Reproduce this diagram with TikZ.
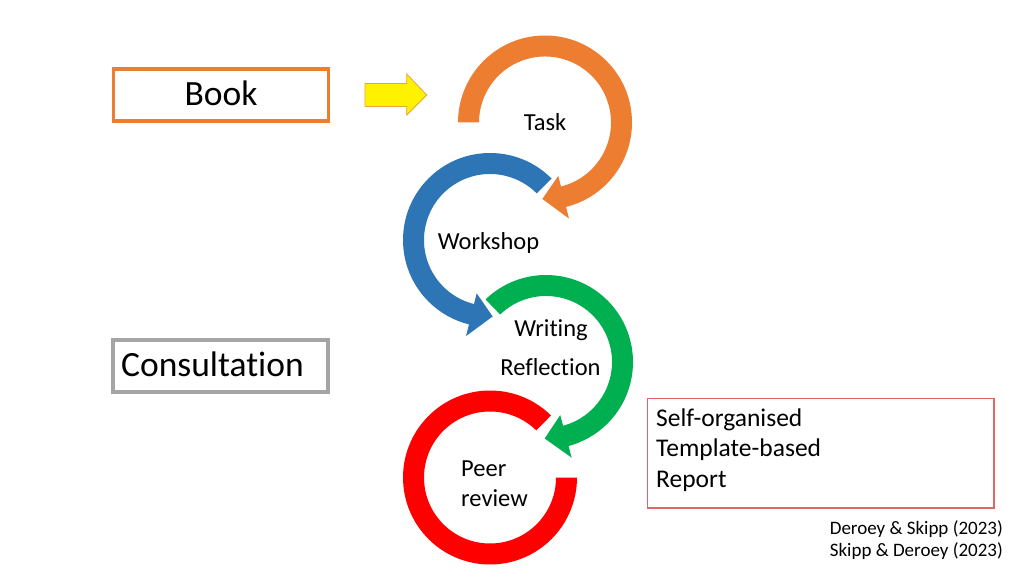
\documentclass[tikz,border=0pt]{standalone}
\usepackage{fontspec}
\setmainfont{Carlito}[Ligatures=NoCommon]
\definecolor{cOrange}{HTML}{ED7D31}
\definecolor{cBlue}{HTML}{2E75B6}
\definecolor{cGreen}{HTML}{00B050}
\definecolor{cRed}{HTML}{FF0000}
\definecolor{cGray}{HTML}{A5A5A5}
\definecolor{cBoxRed}{HTML}{E06666}
\definecolor{cYellowEdge}{HTML}{E8A33A}
\tikzset{
  lbl/.style={inner sep=0pt, font=\fontsize{24.5}{29}\selectfont},
  boxlbl/.style={inner sep=0pt, font=\fontsize{35.5}{41}\selectfont},
  replbl/.style={inner sep=0pt, font=\fontsize{25.5}{30}\selectfont},
  citelbl/.style={inner sep=0pt, font=\fontsize{19}{22}\selectfont},
  framebox/.style={draw, inner sep=0pt, fill=white},
  pics/circarrow/.style n args={4}{code={%
    % #1 start angle, #2 base angle, #3 tip angle, #4 colour
    \fill[#4] (#1:87) arc[start angle=#1, end angle=#2, radius=87]
      -- (#2:99) -- (#3:76.5) -- (#2:55) -- (#2:66)
      arc[start angle=#2, end angle=#1, radius=66] -- cycle;
  }},
}
\begin{document}
\begin{tikzpicture}[x=1pt, y=1pt]
\useasboundingbox[fill=white] (0,0) rectangle (1024,576);

% circular arrows
\pic at (545,453.5) {circarrow={180}{-76}{-92}{cOrange}};
\pic at (490,336) {circarrow={45}{256}{272}{cBlue}};
\pic at (546,214) {circarrow={134}{-75}{-91}{cGreen}};
\begin{scope}[shift={(490,98.5)}]
  \fill[cRed] (45.5:87) arc[start angle=45.5, end angle=360, radius=87]
    -- (0:66) arc[start angle=360, end angle=45.5, radius=66] -- cycle;
\end{scope}

% circle labels
\node[lbl, anchor=base] (task) at (545,445) {Task};
\node[lbl, anchor=base] (workshop) at (488.5,326.5) {Workshop};
\node[lbl, anchor=base] (writing) at (551,240) {Writing};
\node[lbl, anchor=base] (reflection) at (550.5,201) {Reflection};
\node[lbl, anchor=base west] (peer) at (461,99.3) {Peer};
\node[lbl, anchor=base west] (review) at (461,69.3) {review};

% Book box
\node[framebox, draw=cOrange, line width=3.3pt, minimum width=215pt, minimum height=52pt] (bookbox) at (220.8,481) {};
\node[boxlbl, anchor=base] (book) at (221,470.3) {Book};

% yellow arrow
\coordinate (yarrow) at (365,481);
\filldraw[fill=yellow, draw=cYellowEdge, line width=0.8pt, line join=miter]
  (yarrow) ++(0,11.5) -- ++(41.7,0) -- ++(0,9.5) -- (426.7,481) -- (406.7,461) -- ++(0,8.5) -- (365,469.5) -- cycle;

% Consultation box
\node[framebox, draw=cGray, line width=4pt, minimum width=215.5pt, minimum height=51.5pt] (consbox) at (220.25,210.25) {};
\node[boxlbl, anchor=base west] (consultation) at (121,199.3) {Consultation};

% Report box
\node[framebox, draw=cBoxRed, line width=1.3pt, minimum width=346.5pt, minimum height=109.5pt] (repbox) at (820.75,122.75) {};
\node[replbl, anchor=base west] (selforg) at (656,150) {Self-organised};
\node[replbl, anchor=base west] (template) at (656,119.3) {Template-based};
\node[replbl, anchor=base west] (report) at (656,88.7) {Report};

% citations
\node[citelbl, anchor=base east] (cite1) at (1003,42) {Deroey \& Skipp (2023)};
\node[citelbl, anchor=base east] (cite2) at (1003,19.3) {Skipp \& Deroey (2023)};
\end{tikzpicture}
\end{document}
